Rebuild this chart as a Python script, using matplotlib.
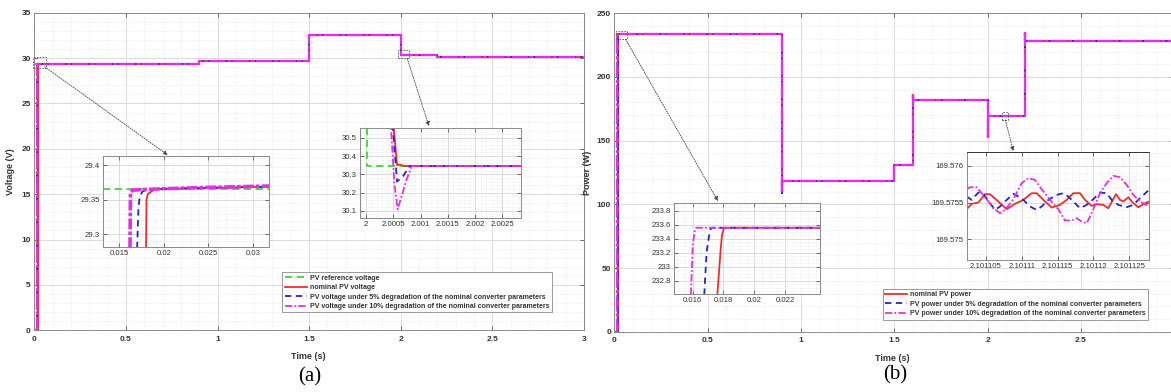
import matplotlib
matplotlib.use("Agg")
import matplotlib.pyplot as plt
from matplotlib.ticker import MultipleLocator, AutoMinorLocator
from matplotlib.patches import Rectangle
from matplotlib.lines import Line2D

plt.rcParams['font.family'] = ['Liberation Sans', 'DejaVu Sans']

# ---------------- data ----------------
# (a) PV voltage, main view: step instants and levels after the start-up rise
volt_step_t = [0.9, 1.5, 2.0, 2.2, 3.0]
volt_step_v = [29.7, 32.55, 30.345, 30.12, 30.12]
volt_start_v = 29.366
volt_rise_t = {"ref": 0.0, "nom": 0.018, "d5": 0.017, "d10": 0.0162}

# (a) inset 1 : start-up around t = 0.016 s
z1_ref_t = [0.0132, 0.032]
z1_ref_v = [29.366, 29.366]
z1_nom_t = [0.0180, 0.01805, 0.0182, 0.0186, 0.019, 0.020, 0.032]
z1_nom_v = [29.28, 29.350, 29.358, 29.362, 29.365, 29.366, 29.369]
z1_d5_t = [0.0170, 0.01715, 0.0173, 0.0176, 0.018, 0.020, 0.032]
z1_d5_v = [29.28, 29.340, 29.355, 29.362, 29.364, 29.366, 29.369]
z1_d10_t = [0.0162, 0.01625, 0.0165, 0.018, 0.020, 0.025, 0.032]
z1_d10_v = [29.28, 29.360, 29.364, 29.365, 29.366, 29.368, 29.370]

# (a) inset 2 : transient at t = 2 s
z2_ref_t = [1.9999, 2.00001, 2.00001, 2.0029]
z2_ref_v = [32.55, 32.55, 30.345, 30.345]
z2_nom_t = [2.00045, 2.00057, 2.00062, 2.0007, 2.0029]
z2_nom_v = [30.75, 30.350, 30.353, 30.345, 30.345]
z2_d5_t = [2.00044, 2.00057, 2.00068, 2.0008, 2.0029]
z2_d5_v = [30.75, 30.26, 30.29, 30.345, 30.345]
z2_d10_t = [2.00042, 2.00052, 2.00058, 2.00065, 2.00074, 2.00084, 2.0029]
z2_d10_v = [30.75, 30.25, 30.108, 30.177, 30.268, 30.345, 30.345]

# (b) PV power, main view (shared part after the start-up rise)
pow_edge_t = [0.9, 0.9, 0.9, 1.5, 1.5, 1.6, 1.6, 1.6, 2.0, 2.0, 2.0, 2.2, 2.2, 2.2, 3.0]
pow_edge_p = [233.56, 108.7, 118.2, 118.2, 130.6, 130.6, 185.5, 182.1, 182.1,
              152.6, 169.58, 169.58, 234.7, 228.4, 228.4]
pow_start_p = 233.56
pow_rise_t = {"nom": 0.0178, "d5": 0.0170, "d10": 0.0160}

# (b) inset 1 : start-up
z3_nom_t = [0.0176, 0.0178, 0.0179, 0.01804, 0.0243]
z3_nom_p = [232.6, 233.2, 233.45, 233.556, 233.556]
z3_d5_t = [0.01675, 0.0169, 0.0171, 0.0172, 0.0243]
z3_d5_p = [232.6, 233.2, 233.5, 233.556, 233.556]
z3_d10_t = [0.01588, 0.0160, 0.01612, 0.01622, 0.0243]
z3_d10_p = [232.6, 233.3, 233.5, 233.556, 233.556]

# (b) inset 2 : ripple around t = 2.1011 s (time given in microseconds after 2.1011 s)
z4_base_t = 2.1011
z4_nom_us = [2.30, 3.00, 3.93, 4.86, 5.56, 6.72, 7.89, 9.05, 10.21, 11.38, 12.08, 13.01,
             14.17, 15.34, 16.27, 17.20, 18.13, 18.83, 19.76, 20.46, 21.39, 22.09, 23.16,
             23.72, 24.18, 24.88, 25.58, 26.28, 27.21, 27.77]
z4_nom_p = [169.57541, 169.575482, 169.5755, 169.575613, 169.575613, 169.575514, 169.57541,
            169.575482, 169.575536, 169.575627, 169.575627, 169.575536, 169.575432,
            169.575468, 169.575536, 169.575627, 169.575627, 169.575536, 169.575455,
            169.575477, 169.575468, 169.575423, 169.575613, 169.575536, 169.575514,
            169.575572, 169.575491, 169.575437, 169.575491, 169.575514]
z4_d5_us = [2.30, 3.00, 3.93, 4.63, 5.56, 6.26, 6.96, 7.89, 8.82, 9.52, 10.21, 11.15, 12.08,
            12.77, 13.71, 14.87, 15.80, 16.50, 17.20, 18.13, 19.06, 19.99, 20.92, 21.85,
            22.55, 23.48, 24.65, 25.58, 26.51, 27.67]
z4_d5_p = [169.575581, 169.575536, 169.575636, 169.575618, 169.575491, 169.5754, 169.575446,
           169.575536, 169.575618, 169.575581, 169.575536, 169.575446, 169.5754, 169.575446,
           169.575536, 169.575604, 169.575627, 169.575581, 169.575514, 169.575423,
           169.575468, 169.575545, 169.575636, 169.575627, 169.575536, 169.575468,
           169.575437, 169.575468, 169.575559, 169.575663]
z4_d10_us = [2.30, 2.77, 3.70, 4.39, 5.33, 6.02, 6.96, 7.65, 8.82, 9.98, 10.91, 11.84, 12.77,
             13.94, 15.10, 16.03, 16.96, 17.66, 18.36, 19.06, 19.76, 20.92, 21.85, 22.78,
             23.72, 24.65, 25.58, 26.51, 27.67]
z4_d10_p = [169.575681, 169.575708, 169.575708, 169.575627, 169.575514, 169.575423,
            169.575355, 169.5754, 169.575545, 169.575762, 169.57583, 169.575808, 169.575681,
            169.575536, 169.57541, 169.575256, 169.575256, 169.575287, 169.575242,
            169.575219, 169.575355, 169.575627, 169.575762, 169.575862, 169.575844,
            169.57574, 169.575604, 169.575514, 169.575455]

volt_labels = ["PV reference voltage", "nominal PV voltage",
               "PV voltage under 5% degradation of the nominal converter parameters",
               "PV voltage under 10% degradation of the nominal converter parameters"]
pow_labels = ["nominal PV power",
              "PV power under 5% degradation of the nominal converter parameters",
              "PV power under 10% degradation of the nominal converter parameters"]

# ---------------- styles ----------------
C_REF, C_NOM, C_D5, C_D10 = "#33dd33", "#e8302c", "#2424c8", "#e62ee6"
ST = {
    "ref": dict(color=C_REF, ls=(0, (4, 2.5))),
    "nom": dict(color=C_NOM, ls="-"),
    "d5": dict(color=C_D5, ls=(0, (3.5, 2.5))),
    "d10": dict(color=C_D10, ls=(0, (4, 1.2, 1, 1.2))),
}
# on the full-scale plots the magenta trace hides nearly everything below it
MAIN_D10 = dict(color=C_D10, ls=(0, (7, 0.7, 1.5, 0.7)))
TXT = "#333333"


def style(ax, fs, bold, xminor=None, yminor=None):
    ax.tick_params(which="major", direction="in", top=True, right=True, length=3,
                   width=0.6, labelsize=fs, colors="#555555", labelcolor=TXT, pad=2.5)
    ax.tick_params(which="minor", length=0, top=True, right=True)
    for lab in ax.get_xticklabels() + ax.get_yticklabels():
        lab.set_fontweight("bold" if bold else "normal")
    if xminor is not None:
        ax.xaxis.set_minor_locator(xminor)
    if yminor is not None:
        ax.yaxis.set_minor_locator(yminor)
    ax.grid(True, which="major", color="#d6d6d6", lw=0.6)
    ax.grid(True, which="minor", color="#e6e6e6", lw=0.45, ls=(0, (1.5, 1.5)))
    ax.set_axisbelow(True)
    for s in ax.spines.values():
        s.set_color("#8a8a8a")
        s.set_linewidth(0.7)


def zoom_box(ax, x0, x1, y0, y1):
    ax.add_patch(Rectangle((x0, y0), x1 - x0, y1 - y0, fill=False, ec="#555555",
                           lw=0.6, ls=(0, (2, 1.5)), clip_on=False, zorder=6))


def arrow(ax, xy_data, xy_fig):
    ax.annotate("", xy=xy_fig, xycoords="figure fraction", xytext=xy_data,
                textcoords="data",
                arrowprops=dict(arrowstyle="-|>", color="#444444", lw=0.6,
                                ls=(0, (1.5, 1.5)), mutation_scale=6,
                                shrinkA=0, shrinkB=0), zorder=7)


fig = plt.figure(figsize=(11.71, 3.92), dpi=100)

# ================= (a) voltage =================
axa = fig.add_axes([0.0293, 0.1574, 0.4694, 0.8102])
for key in ["ref", "nom", "d5", "d10"]:
    r = volt_rise_t[key]
    t = [0.0, r] + volt_step_t
    v = [0.0, volt_start_v] + volt_step_v
    if key == "ref":
        t = [0.0] + volt_step_t
        v = [volt_start_v] + volt_step_v
    kw = MAIN_D10 if key == "d10" else ST[key]
    axa.plot(t, v, drawstyle="steps-post", lw=1.7 if key == "d10" else 1.4, **kw)
axa.set_xlim(0, 3)
axa.set_ylim(0, 35)
axa.set_xticks([0, 0.5, 1, 1.5, 2, 2.5, 3], ["0", "0.5", "1", "1.5", "2", "2.5", "3"])
axa.set_yticks(range(0, 36, 5))
style(axa, 6, True, MultipleLocator(0.1), MultipleLocator(1))
axa.tick_params(axis="x", pad=4)
axa.set_xlabel("Time (s)", fontsize=6.5, fontweight="bold", color=TXT)
axa.xaxis.set_label_coords(0.498, -0.067)
axa.set_ylabel("Voltage (V)", fontsize=6.5, fontweight="bold", color=TXT)
axa.yaxis.set_label_coords(-0.035, 0.5)

handles = [Line2D([], [], lw=1.3, **ST[k]) for k in ["ref", "nom", "d5", "d10"]]
leg = axa.legend(handles, volt_labels, loc="upper left", bbox_to_anchor=(0.2411, 0.3054),
                 bbox_transform=fig.transFigure, prop=dict(weight="bold", size=5),
                 fancybox=False, framealpha=1, edgecolor="#8a8a8a", borderaxespad=0,
                 borderpad=0.35, labelspacing=0.35, handlelength=3.2, handletextpad=0.4)
leg.get_frame().set_linewidth(0.6)
for txt in leg.get_texts():
    txt.set_color(TXT)

zoom_box(axa, -0.007, 0.062, 28.87, 30.15)
zoom_box(axa, 1.984, 2.046, 29.97, 30.89)
arrow(axa, (0.056, 29.05), (0.1432, 0.6046))
arrow(axa, (2.035, 29.97), (0.3663, 0.6786))

# inset a1
ia1 = fig.add_axes([0.0882, 0.3707, 0.1415, 0.2314])
ia1.plot(z1_ref_t, z1_ref_v, lw=1.3, **ST["ref"])
ia1.plot(z1_nom_t, z1_nom_v, lw=1.3, **ST["nom"])
ia1.plot(z1_d5_t, z1_d5_v, lw=1.3, **ST["d5"])
ia1.plot(z1_d10_t, z1_d10_v, lw=2.6, color=C_D10, ls=(0, (3, 0.6, 1, 0.6)))
ia1.set_xlim(0.0132, 0.0318)
ia1.set_ylim(29.282, 29.4135)
ia1.set_xticks([0.015, 0.02, 0.025, 0.03], ["0.015", "0.02", "0.025", "0.03"])
ia1.set_yticks([29.3, 29.35, 29.4], ["29.3", "29.35", "29.4"])
style(ia1, 5.6, False, AutoMinorLocator(5), AutoMinorLocator(5))

# inset a2
ia2 = fig.add_axes([0.3074, 0.4446, 0.1375, 0.2296])
ia2.plot(z2_ref_t, z2_ref_v, lw=1.3, **ST["ref"])
ia2.plot(z2_nom_t, z2_nom_v, lw=1.3, **ST["nom"])
ia2.plot(z2_d5_t, z2_d5_v, lw=1.3, **ST["d5"])
ia2.plot(z2_d10_t, z2_d10_v, lw=1.3, **ST["d10"])
ia2.set_xlim(1.99989, 2.00284)
ia2.set_ylim(30.062, 30.555)
ia2.set_xticks([2, 2.0005, 2.001, 2.0015, 2.002, 2.0025],
               ["2", "2.0005", "2.001", "2.0015", "2.002", "2.0025"])
ia2.set_yticks([30.1, 30.2, 30.3, 30.4, 30.5], ["30.1", "30.2", "30.3", "30.4", "30.5"])
style(ia2, 5.6, False, AutoMinorLocator(5), AutoMinorLocator(5))

# ================= (b) power =================
axb = fig.add_axes([0.5247, 0.1536, 0.4781, 0.8125])
for key in ["nom", "d5", "d10"]:
    r = pow_rise_t[key]
    kw = MAIN_D10 if key == "d10" else ST[key]
    axb.plot([0.0, r, r] + pow_edge_t, [0.0, 0.0, pow_start_p] + pow_edge_p,
             lw=1.7 if key == "d10" else 1.4, **kw)
axb.set_xlim(0, 3)
axb.set_ylim(0, 250)
# the "3" label falls outside the picture in the reference
axb.set_xticks([0, 0.5, 1, 1.5, 2, 2.5, 3], ["0", "0.5", "1", "1.5", "2", "2.5", ""])
axb.set_yticks(range(0, 251, 50))
style(axb, 6, True, MultipleLocator(0.1), MultipleLocator(10))
axb.tick_params(axis="x", pad=4)
axb.set_xlabel("Time (s)", fontsize=6.5, fontweight="bold", color=TXT)
axb.xaxis.set_label_coords(0.497, -0.07)
axb.set_ylabel("Power (W)", fontsize=6.5, fontweight="bold", color=TXT)
axb.yaxis.set_label_coords(-0.04, 0.5)

handles = [Line2D([], [], lw=1.3, **ST[k]) for k in ["nom", "d5", "d10"]]
leg = axb.legend(handles, pow_labels, loc="upper left", bbox_to_anchor=(0.7538, 0.2628),
                 bbox_transform=fig.transFigure, prop=dict(weight="bold", size=5),
                 fancybox=False, framealpha=1, edgecolor="#8a8a8a", borderaxespad=0,
                 borderpad=0.35, labelspacing=0.35, handlelength=3.2, handletextpad=0.4)
leg.get_frame().set_linewidth(0.6)
for txt in leg.get_texts():
    txt.set_color(TXT)

zoom_box(axb, 0.01, 0.07, 229.6, 236.3)
zoom_box(axb, 2.075, 2.11, 166.3, 172.8)
arrow(axb, (0.06, 229.6), (0.6131, 0.4872))
arrow(axb, (2.095, 166.3), (0.8653, 0.6148))

# inset b1
ib1 = fig.add_axes([0.5758, 0.25, 0.1244, 0.2329])
ib1.plot(z3_nom_t, z3_nom_p, lw=1.3, **ST["nom"])
ib1.plot(z3_d5_t, z3_d5_p, lw=1.3, **ST["d5"])
ib1.plot(z3_d10_t, z3_d10_p, lw=1.3, **ST["d10"])
ib1.set_xlim(0.0148, 0.02427)
ib1.set_ylim(232.61, 233.914)
ib1.set_xticks([0.016, 0.018, 0.02, 0.022], ["0.016", "0.018", "0.02", "0.022"])
ib1.set_yticks([232.8, 233, 233.2, 233.4, 233.6, 233.8],
               ["232.8", "233", "233.2", "233.4", "233.6", "233.8"])
style(ib1, 5.6, False, AutoMinorLocator(4), AutoMinorLocator(4))

# inset b2
ib2 = fig.add_axes([0.8255, 0.3367, 0.1557, 0.2763])
for us, p, key in [(z4_nom_us, z4_nom_p, "nom"), (z4_d5_us, z4_d5_p, "d5"),
                   (z4_d10_us, z4_d10_p, "d10")]:
    ib2.plot([z4_base_t + u * 1e-6 for u in us], p, lw=1.3, **ST[key])
ib2.set_xlim(z4_base_t + 2.30e-6, z4_base_t + 27.77e-6)
ib2.set_ylim(169.57472, 169.57619)
ib2.set_xticks([z4_base_t + u * 1e-6 for u in [5, 10, 15, 20, 25]],
               ["2.101105", "2.10111", "2.101115", "2.10112", "2.101125"])
ib2.set_yticks([169.575, 169.5755, 169.576], ["169.575", "169.5755", "169.576"])
style(ib2, 5.6, False, AutoMinorLocator(5), AutoMinorLocator(5))
ib2.spines["top"].set_color("#333333")

fig.text(0.2647, 0.038, "(a)", fontsize=15, family="Liberation Serif", ha="center", va="center")
fig.text(0.7643, 0.043, "(b)", fontsize=15, family="Liberation Serif", ha="center", va="center")

fig.savefig("out.png", dpi=100)
